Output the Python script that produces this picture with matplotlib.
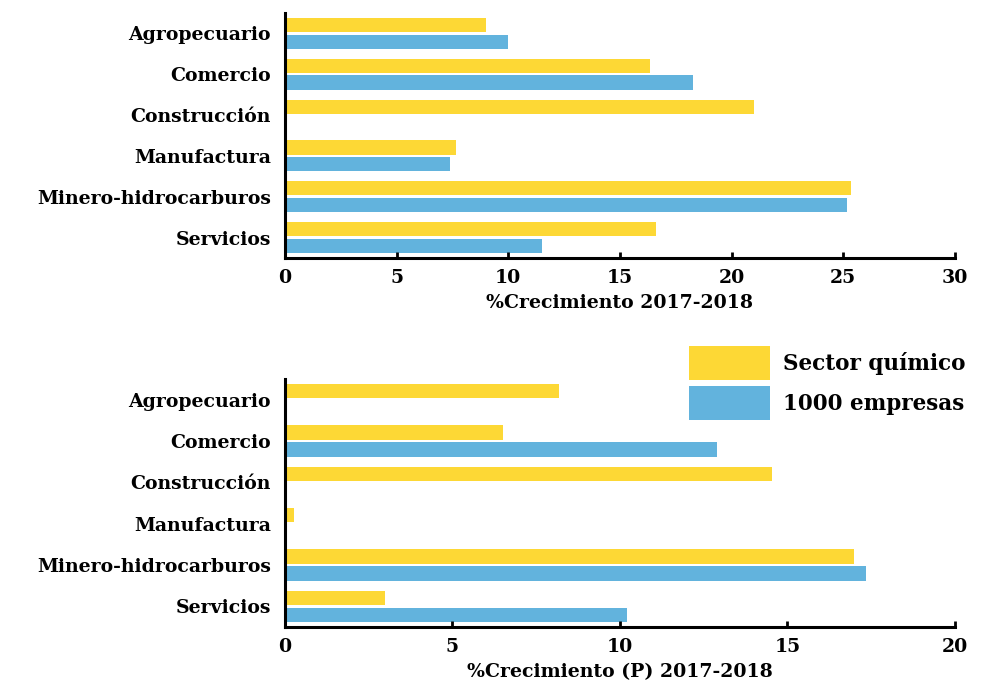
import numpy as np
import matplotlib.pyplot as plt

# datos
sectores = ["Agropecuario", "Comercio", "Construcción", "Manufactura",
            "Minero-hidrocarburos", "Servicios"]
quimico_2018 = [9.0, 16.35, 21.0, 7.67, 25.35, 16.6]
empresas_2018 = [10.0, 18.25, 0.0, 7.4, 25.15, 11.5]
quimico_p = [8.17, 6.5, 14.55, 0.27, 17.0, 3.0]
empresas_p = [0.0, 12.9, 0.0, 0.0, 17.35, 10.2]
series_labels = ["Sector químico", "1000 empresas"]
xlabels = ["%Crecimiento 2017-2018", "%Crecimiento (P) 2017-2018"]
xmax = [30, 20]

AMARILLO = "#FDD835"
AZUL = "#62B3DD"

plt.rcParams['font.family'] = ['DejaVu Serif']
plt.rcParams['font.weight'] = 'bold'

fig = plt.figure(figsize=(9.96, 6.83), dpi=100)
ax1 = fig.add_axes([0.2861, 0.6223, 0.6727, 0.3587])
ax2 = fig.add_axes([0.2861, 0.0820, 0.6727, 0.3631])

y = np.arange(len(sectores))
h = 0.35
off = 0.205
fs = 13.6

for ax, a, b, xl, xm in zip([ax1, ax2], [quimico_2018, quimico_p],
                            [empresas_2018, empresas_p], xlabels, xmax):
    bars_a = ax.barh(y - off, a, height=h, color=AMARILLO)
    bars_b = ax.barh(y + off, b, height=h, color=AZUL)
    ax.set_yticks(y)
    ax.set_yticklabels(sectores, fontsize=fs, fontweight='bold')
    ax.set_ylim(5.5, -0.5)
    ax.set_xlim(0, xm)
    ax.set_xticks(np.arange(0, xm + 1, 5))
    ax.tick_params(axis='x', direction='in', length=4, width=2, labelsize=fs, pad=8)
    ax.tick_params(axis='y', length=0, pad=10)
    ax.set_xlabel(xl, fontsize=fs, fontweight='bold', labelpad=5)
    for s in ['top', 'right']:
        ax.spines[s].set_visible(False)
    for s in ['left', 'bottom']:
        ax.spines[s].set_linewidth(2.2)

fig.legend([bars_a, bars_b], series_labels, loc='upper right',
           bbox_to_anchor=(0.969, 0.4934), frameon=False, fontsize=15.5,
           handlelength=3.77, handleheight=2.04, labelspacing=0.28,
           handletextpad=0.6, borderaxespad=0, borderpad=0)

fig.savefig("out.png", dpi=100)
